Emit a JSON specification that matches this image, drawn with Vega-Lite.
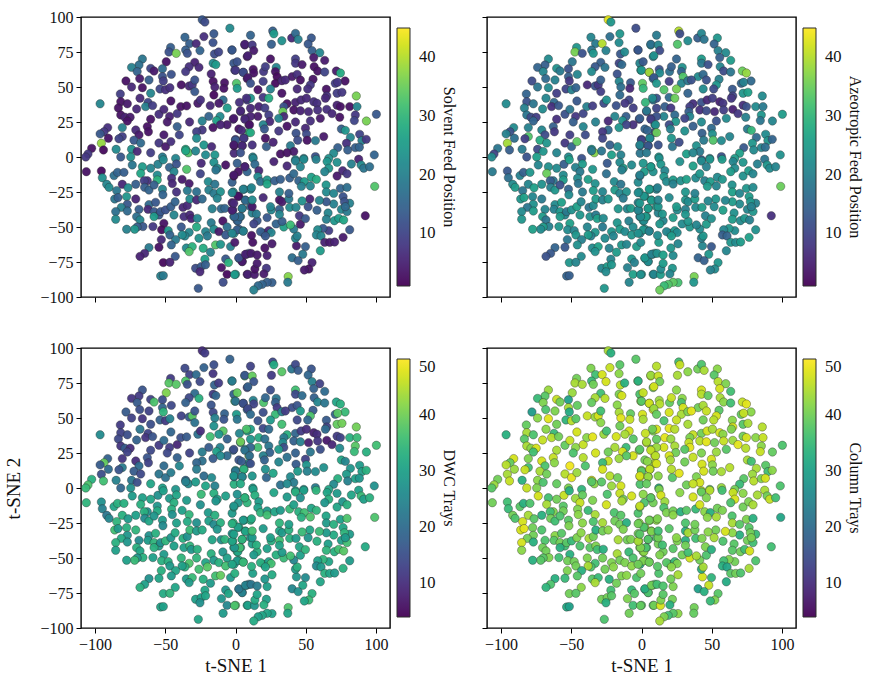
{"$schema":"https://vega.github.io/schema/vega-lite/v6.json","background":"white","padding":{"left":4,"top":8,"right":0,"bottom":0},
"config":{"font":"Liberation Serif","view":{"stroke":"black","strokeWidth":1.4},"axis":{"grid":false,"domain":false,"labelFont":"Liberation Serif","titleFont":"Liberation Serif","labelFontSize":16,"titleFontSize":19,"titleFontWeight":"normal","labelColor":"#111","titleColor":"#111","tickColor":"black","tickSize":5,"tickWidth":1,"labelPadding":3},"legend":{"labelFont":"Liberation Serif","titleFont":"Liberation Serif","labelFontSize":16.5,"titleFontSize":16,"titleFontWeight":"normal","labelColor":"#111","titleColor":"#111"}},
"datasets":{"pts":[
{"x":-23.7,"y":98,"s":13,"a":43,"d":10,"c":44},{"x":-21.8,"y":96.4,"s":11,"a":24,"d":12,"c":33},{"x":-4,"y":92,"s":22,"a":11,"d":18,"c":38},{"x":-36,"y":85.5,"s":15,"a":21,"d":14,"c":41},{"x":-22.5,"y":86,"s":7,"a":17,"d":18,"c":46},{"x":-15.4,"y":88,"s":13,"a":24,"d":15,"c":38},{"x":-16,"y":81.7,"s":12,"a":22,"d":11,"c":42},{"x":-32.7,"y":81,"s":14,"a":19,"d":13,"c":36},{"x":-28,"y":81,"s":6,"a":40,"d":20,"c":47},{"x":-46.2,"y":78.3,"s":14,"a":24,"d":12,"c":40},{"x":-47.4,"y":75,"s":12,"a":36,"d":38,"c":44},{"x":-42.2,"y":74,"s":36,"a":12,"d":38,"c":44},{"x":-35.5,"y":76.4,"s":14,"a":18,"d":37,"c":35},{"x":-34.3,"y":74,"s":12,"a":24,"d":15,"c":40},{"x":-25.3,"y":76,"s":15,"a":20,"d":14,"c":47},{"x":-15,"y":73.6,"s":11,"a":13,"d":18,"c":45},{"x":-12,"y":75,"s":10,"a":22,"d":12,"c":33},{"x":-2.6,"y":76.4,"s":12,"a":11,"d":28,"c":42},{"x":6.6,"y":80,"s":5,"a":25,"d":36,"c":46},{"x":8.3,"y":71.7,"s":3,"a":20,"d":13,"c":39},
{"x":-66.3,"y":70,"s":18,"a":22,"d":16,"c":43},{"x":-68.7,"y":65.7,"s":17,"a":14,"d":12,"c":38},{"x":-74,"y":64,"s":20,"a":15,"d":11,"c":35},{"x":-70,"y":61,"s":15,"a":21,"d":17,"c":41},{"x":-49.3,"y":68,"s":3,"a":18,"d":41,"c":43},{"x":-52,"y":63,"s":16,"a":12,"d":15,"c":30},{"x":-60.4,"y":63.3,"s":10,"a":23,"d":13,"c":46},{"x":-58,"y":61.4,"s":4,"a":19,"d":37,"c":40},{"x":-29,"y":67.6,"s":5,"a":14,"d":20,"c":36},{"x":-33,"y":64.5,"s":7,"a":13,"d":14,"c":44},{"x":-35.5,"y":61,"s":8,"a":22,"d":18,"c":39},{"x":-26,"y":64,"s":6,"a":18,"d":33,"c":45},{"x":-15.9,"y":67,"s":22,"a":10,"d":12,"c":41},{"x":-14,"y":66,"s":25,"a":16,"d":19,"c":47},{"x":-1.2,"y":67,"s":13,"a":21,"d":18,"c":37},{"x":1.2,"y":68,"s":12,"a":13,"d":39,"c":46},{"x":-0.5,"y":62,"s":9,"a":25,"d":36,"c":43},{"x":5.5,"y":60.5,"s":10,"a":9,"d":21,"c":35},{"x":8.3,"y":56,"s":3,"a":17,"d":18,"c":48},{"x":-17.3,"y":59.3,"s":5,"a":12,"d":16,"c":42},
{"x":-45.7,"y":59,"s":12,"a":21,"d":14,"c":39},{"x":-52,"y":57.4,"s":12,"a":14,"d":19,"c":44},{"x":-51.4,"y":54.3,"s":9,"a":8,"d":34,"c":32},{"x":-61.6,"y":55,"s":14,"a":20,"d":13,"c":41},{"x":-68.2,"y":56,"s":4,"a":16,"d":15,"c":37},{"x":-78,"y":54.3,"s":3,"a":11,"d":17,"c":29},{"x":-74,"y":50,"s":6,"a":18,"d":13,"c":42},{"x":-66.3,"y":49.5,"s":3,"a":22,"d":11,"c":48},{"x":-60.4,"y":45.5,"s":21,"a":9,"d":15,"c":40},{"x":-53.8,"y":48.6,"s":10,"a":10,"d":18,"c":34},{"x":-49.8,"y":48,"s":7,"a":20,"d":12,"c":45},{"x":-46.7,"y":49.5,"s":7,"a":15,"d":24,"c":38},{"x":-38.6,"y":51.5,"s":3,"a":6,"d":13,"c":46},{"x":-33,"y":50.7,"s":6,"a":12,"d":17,"c":43},{"x":-30.8,"y":51.5,"s":8,"a":8,"d":38,"c":47},{"x":-29,"y":55,"s":12,"a":14,"d":16,"c":36},{"x":-29,"y":46.7,"s":13,"a":9,"d":21,"c":42},{"x":-15.9,"y":54,"s":3,"a":21,"d":14,"c":44},{"x":-14.7,"y":50,"s":5,"a":17,"d":24,"c":48},{"x":-7.8,"y":53,"s":3,"a":13,"d":18,"c":39},
{"x":-8.3,"y":49,"s":3,"a":6,"d":16,"c":46},{"x":-15.4,"y":44.3,"s":2,"a":16,"d":27,"c":40},{"x":-8.8,"y":40.7,"s":17,"a":10,"d":38,"c":47},{"x":0.7,"y":52.6,"s":33,"a":34,"d":29,"c":47},{"x":1.2,"y":49,"s":25,"a":30,"d":22,"c":44},{"x":-82,"y":45,"s":9,"a":15,"d":12,"c":39},{"x":-81.7,"y":39.5,"s":3,"a":12,"d":13,"c":44},{"x":-77,"y":38,"s":4,"a":18,"d":15,"c":37},{"x":-68,"y":42,"s":6,"a":21,"d":22,"c":42},{"x":-62.3,"y":39,"s":10,"a":16,"d":13,"c":35},{"x":-64,"y":36,"s":20,"a":7,"d":11,"c":45},{"x":-59,"y":36.7,"s":9,"a":13,"d":16,"c":40},{"x":-70.4,"y":34.3,"s":6,"a":22,"d":18,"c":46},{"x":-83.4,"y":35,"s":3,"a":20,"d":14,"c":38},{"x":-81.7,"y":30,"s":3,"a":18,"d":11,"c":44},{"x":-78.7,"y":28.4,"s":5,"a":11,"d":17,"c":42},{"x":-75,"y":28.4,"s":4,"a":9,"d":10,"c":47},{"x":-77,"y":25.7,"s":3,"a":15,"d":13,"c":36},{"x":-96.4,"y":38,"s":21,"a":22,"d":26,"c":33},{"x":-46,"y":40,"s":3,"a":13,"d":19,"c":47},
{"x":-60.4,"y":27,"s":3,"a":7,"d":14,"c":44},{"x":-54.5,"y":30.5,"s":7,"a":12,"d":12,"c":39},{"x":-51,"y":34,"s":6,"a":18,"d":20,"c":46},{"x":-46.9,"y":29,"s":5,"a":8,"d":12,"c":42},{"x":-48.6,"y":25,"s":4,"a":14,"d":14,"c":37},{"x":-41.5,"y":31,"s":8,"a":10,"d":9,"c":46},{"x":-39,"y":36,"s":3,"a":20,"d":15,"c":42},{"x":-34.8,"y":36.5,"s":3,"a":9,"d":17,"c":48},{"x":-26.8,"y":38.4,"s":4,"a":11,"d":21,"c":43},{"x":-24.9,"y":40.7,"s":7,"a":23,"d":10,"c":36},{"x":-18,"y":36.7,"s":6,"a":12,"d":36,"c":47},{"x":-11.8,"y":38.4,"s":4,"a":8,"d":28,"c":44},{"x":-5.9,"y":35,"s":25,"a":9,"d":18,"c":38},{"x":3.6,"y":32.4,"s":5,"a":8,"d":22,"c":46},{"x":8.3,"y":40.7,"s":9,"a":17,"d":29,"c":41},{"x":-11,"y":29,"s":22,"a":14,"d":24,"c":35},{"x":-13.5,"y":26,"s":26,"a":23,"d":30,"c":47},{"x":-19,"y":29,"s":15,"a":21,"d":17,"c":44},{"x":-23.7,"y":25.7,"s":20,"a":6,"d":23,"c":40},{"x":-32.7,"y":25,"s":6,"a":20,"d":13,"c":47},
{"x":-1.6,"y":27,"s":5,"a":7,"d":19,"c":42},{"x":7,"y":27.6,"s":7,"a":11,"d":32,"c":36},{"x":9.5,"y":23,"s":4,"a":19,"d":40,"c":48},{"x":9.5,"y":17.7,"s":31,"a":11,"d":25,"c":44},{"x":2.4,"y":20,"s":3,"a":15,"d":16,"c":40},{"x":-6,"y":23,"s":4,"a":7,"d":20,"c":47},{"x":-10.7,"y":23,"s":5,"a":10,"d":26,"c":38},{"x":-16,"y":21,"s":3,"a":24,"d":17,"c":43},{"x":-23.7,"y":19.3,"s":8,"a":16,"d":21,"c":46},{"x":-27.7,"y":18,"s":9,"a":8,"d":19,"c":35},{"x":-80.6,"y":21,"s":20,"a":20,"d":11,"c":41},{"x":-91,"y":21,"s":7,"a":22,"d":18,"c":47},{"x":-93.6,"y":18,"s":8,"a":12,"d":39,"c":39},{"x":-96.4,"y":16.5,"s":13,"a":20,"d":17,"c":45},{"x":-90.5,"y":13.4,"s":3,"a":17,"d":20,"c":43},{"x":-95.5,"y":9.8,"s":38,"a":39,"d":15,"c":44},{"x":-102.4,"y":6.2,"s":3,"a":18,"d":33,"c":40},{"x":-94,"y":5,"s":2,"a":14,"d":36,"c":46},{"x":-105,"y":2.2,"s":8,"a":10,"d":37,"c":43},{"x":-106.6,"y":0,"s":8,"a":22,"d":35,"c":38},
{"x":-62.8,"y":21.7,"s":3,"a":14,"d":16,"c":46},{"x":-62,"y":18,"s":3,"a":8,"d":13,"c":42},{"x":-71,"y":19.3,"s":6,"a":21,"d":10,"c":47},{"x":-68.7,"y":15.8,"s":4,"a":11,"d":20,"c":37},{"x":-72.3,"y":12,"s":13,"a":28,"d":17,"c":44},{"x":-67.5,"y":10,"s":16,"a":24,"d":14,"c":40},{"x":-80.6,"y":14.6,"s":9,"a":33,"d":23,"c":36},{"x":-83,"y":13,"s":10,"a":9,"d":16,"c":46},{"x":-85,"y":5.5,"s":22,"a":19,"d":24,"c":33},{"x":-74,"y":5.5,"s":23,"a":11,"d":22,"c":42},{"x":-70,"y":4,"s":6,"a":24,"d":15,"c":37},{"x":-74.6,"y":0,"s":23,"a":26,"d":27,"c":41},{"x":-81.7,"y":0,"s":13,"a":12,"d":19,"c":46},{"x":-60.4,"y":3,"s":9,"a":21,"d":31,"c":39},{"x":-54.5,"y":10,"s":8,"a":8,"d":22,"c":45},{"x":-49.8,"y":7.4,"s":4,"a":15,"d":21,"c":48},{"x":-46,"y":11,"s":7,"a":34,"d":23,"c":43},{"x":-40,"y":15.8,"s":10,"a":11,"d":25,"c":37},{"x":-41.5,"y":21.7,"s":14,"a":21,"d":18,"c":45},{"x":-51,"y":15.8,"s":4,"a":9,"d":20,"c":49},
{"x":-52,"y":0,"s":19,"a":22,"d":30,"c":41},{"x":-42.6,"y":-1,"s":21,"a":12,"d":28,"c":34},{"x":-35.5,"y":5.5,"s":28,"a":24,"d":19,"c":47},{"x":-33.6,"y":3,"s":33,"a":37,"d":26,"c":42},{"x":-28.4,"y":4.3,"s":21,"a":18,"d":29,"c":38},{"x":-27.7,"y":13.4,"s":22,"a":10,"d":23,"c":47},{"x":-22.5,"y":8.6,"s":24,"a":14,"d":20,"c":45},{"x":-17,"y":7.4,"s":6,"a":22,"d":26,"c":40},{"x":-21.3,"y":1.5,"s":22,"a":26,"d":31,"c":43},{"x":-14.7,"y":1.5,"s":24,"a":20,"d":24,"c":47},{"x":-1,"y":2.7,"s":6,"a":18,"d":33,"c":37},{"x":0,"y":12.6,"s":7,"a":9,"d":30,"c":44},{"x":-1,"y":8,"s":2,"a":12,"d":21,"c":47},{"x":4.8,"y":8,"s":3,"a":8,"d":25,"c":41},{"x":6,"y":13.4,"s":9,"a":17,"d":28,"c":35},
{"x":10.7,"y":87,"s":15,"a":19,"d":13,"c":45},{"x":26.5,"y":90,"s":14,"a":40,"d":14,"c":36},{"x":27.3,"y":88,"s":25,"a":11,"d":32,"c":46},{"x":33,"y":83,"s":23,"a":22,"d":38,"c":42},{"x":40,"y":85,"s":6,"a":14,"d":22,"c":40},{"x":42.7,"y":88.3,"s":16,"a":21,"d":14,"c":37},{"x":44.6,"y":84,"s":20,"a":18,"d":17,"c":44},{"x":54,"y":85,"s":13,"a":24,"d":16,"c":42},{"x":51.7,"y":80.7,"s":13,"a":15,"d":19,"c":38},{"x":54.5,"y":76,"s":14,"a":20,"d":24,"c":45},{"x":60,"y":74.5,"s":21,"a":22,"d":13,"c":41},{"x":55.7,"y":71,"s":4,"a":14,"d":18,"c":47},{"x":63.5,"y":69,"s":4,"a":25,"d":20,"c":36},{"x":6.6,"y":80.5,"s":5,"a":17,"d":16,"c":43},{"x":11.9,"y":80,"s":8,"a":21,"d":39,"c":46},{"x":13,"y":76,"s":4,"a":11,"d":16,"c":40},{"x":25.6,"y":80.5,"s":14,"a":33,"d":12,"c":44},{"x":-2.4,"y":76.4,"s":13,"a":13,"d":23,"c":33},{"x":8.8,"y":72.4,"s":5,"a":23,"d":18,"c":47},{"x":24.9,"y":70,"s":3,"a":15,"d":15,"c":42},
{"x":42.7,"y":70,"s":9,"a":25,"d":36,"c":47},{"x":42.7,"y":67,"s":8,"a":19,"d":14,"c":45},{"x":47.4,"y":66,"s":4,"a":12,"d":20,"c":39},{"x":56,"y":64.5,"s":3,"a":21,"d":18,"c":44},{"x":58.5,"y":61.4,"s":3,"a":11,"d":25,"c":42},{"x":63.5,"y":60.7,"s":10,"a":18,"d":22,"c":36},{"x":71.8,"y":61.4,"s":4,"a":35,"d":31,"c":46},{"x":74.7,"y":60,"s":28,"a":38,"d":33,"c":48},{"x":78,"y":54.3,"s":3,"a":16,"d":35,"c":42},{"x":0,"y":62,"s":8,"a":24,"d":21,"c":38},{"x":5.5,"y":60.5,"s":11,"a":39,"d":15,"c":47},{"x":12.6,"y":62.6,"s":3,"a":12,"d":24,"c":43},{"x":13,"y":60,"s":3,"a":22,"d":13,"c":45},{"x":20,"y":61,"s":8,"a":17,"d":37,"c":39},{"x":21.3,"y":64.5,"s":9,"a":14,"d":19,"c":46},{"x":29,"y":64,"s":21,"a":23,"d":22,"c":42},{"x":28.4,"y":61,"s":3,"a":15,"d":18,"c":37},{"x":29.6,"y":57.4,"s":2,"a":33,"d":12,"c":47},{"x":40.3,"y":57.4,"s":4,"a":22,"d":15,"c":40},{"x":43.9,"y":59,"s":7,"a":16,"d":16,"c":44},
{"x":46.2,"y":55,"s":3,"a":12,"d":29,"c":46},{"x":55.2,"y":55.5,"s":3,"a":20,"d":17,"c":38},{"x":8.8,"y":56.7,"s":4,"a":13,"d":14,"c":43},{"x":10.7,"y":52.6,"s":12,"a":24,"d":20,"c":39},{"x":19.7,"y":54,"s":9,"a":9,"d":15,"c":47},{"x":28.4,"y":52.6,"s":2,"a":21,"d":35,"c":44},{"x":33,"y":54.5,"s":5,"a":18,"d":24,"c":41},{"x":35.5,"y":55,"s":6,"a":12,"d":12,"c":48},{"x":16,"y":48,"s":3,"a":33,"d":16,"c":37},{"x":24.9,"y":48.6,"s":20,"a":36,"d":29,"c":46},{"x":33,"y":45.5,"s":3,"a":15,"d":36,"c":44},{"x":43.9,"y":48.6,"s":6,"a":22,"d":14,"c":40},{"x":53.3,"y":51.5,"s":8,"a":24,"d":37,"c":47},{"x":51.4,"y":48.6,"s":7,"a":11,"d":19,"c":45},{"x":71,"y":52.6,"s":9,"a":15,"d":18,"c":39},{"x":72.7,"y":53.4,"s":8,"a":20,"d":38,"c":46},{"x":64.7,"y":48.4,"s":3,"a":13,"d":17,"c":42},{"x":72.3,"y":45.5,"s":9,"a":24,"d":39,"c":38},{"x":75.8,"y":46.2,"s":8,"a":26,"d":40,"c":44},{"x":65,"y":43.6,"s":7,"a":10,"d":13,"c":47},
{"x":64,"y":42,"s":6,"a":8,"d":20,"c":41},{"x":86,"y":43.6,"s":36,"a":22,"d":40,"c":45},{"x":19.7,"y":42.6,"s":8,"a":16,"d":14,"c":48},{"x":23.7,"y":42,"s":28,"a":35,"d":20,"c":45},{"x":10.7,"y":42,"s":24,"a":12,"d":30,"c":47},{"x":7.8,"y":42,"s":7,"a":22,"d":37,"c":40},{"x":2.8,"y":39,"s":7,"a":30,"d":25,"c":46},{"x":3.6,"y":33,"s":6,"a":19,"d":40,"c":44},{"x":10.7,"y":34.8,"s":6,"a":10,"d":28,"c":39},{"x":16.6,"y":36,"s":5,"a":14,"d":32,"c":48},{"x":20.9,"y":35,"s":9,"a":8,"d":21,"c":43},{"x":36.7,"y":38,"s":3,"a":7,"d":33,"c":46},{"x":42.7,"y":39,"s":5,"a":12,"d":19,"c":40},{"x":46.7,"y":40.7,"s":6,"a":6,"d":12,"c":47},{"x":50.5,"y":42,"s":6,"a":9,"d":10,"c":44},{"x":55.7,"y":39.5,"s":7,"a":5,"d":8,"c":47},{"x":58,"y":38.4,"s":7,"a":8,"d":10,"c":42},{"x":41.5,"y":33.6,"s":3,"a":7,"d":18,"c":45},{"x":46.2,"y":33,"s":5,"a":11,"d":24,"c":48},{"x":52,"y":32.4,"s":6,"a":6,"d":8,"c":40},
{"x":58.5,"y":33.6,"s":7,"a":9,"d":11,"c":46},{"x":65,"y":34,"s":7,"a":5,"d":7,"c":43},{"x":68.7,"y":31,"s":6,"a":8,"d":9,"c":48},{"x":72.3,"y":37,"s":5,"a":7,"d":12,"c":40},{"x":74.7,"y":36,"s":3,"a":12,"d":13,"c":47},{"x":81.3,"y":36,"s":3,"a":22,"d":33,"c":42},{"x":86.5,"y":36,"s":21,"a":19,"d":35,"c":46},{"x":34.4,"y":36,"s":12,"a":9,"d":23,"c":41},{"x":33.7,"y":32.4,"s":35,"a":14,"d":26,"c":46},{"x":34.4,"y":29,"s":6,"a":21,"d":15,"c":48},{"x":30.8,"y":27.6,"s":21,"a":10,"d":29,"c":38},{"x":23.7,"y":30,"s":9,"a":16,"d":22,"c":44},{"x":24.4,"y":25.3,"s":6,"a":24,"d":18,"c":40},{"x":15.9,"y":29,"s":4,"a":21,"d":36,"c":47},{"x":10.7,"y":29,"s":5,"a":12,"d":19,"c":43},{"x":6.6,"y":27,"s":6,"a":9,"d":21,"c":46},{"x":-1.2,"y":27.6,"s":4,"a":14,"d":15,"c":38},{"x":10,"y":23,"s":3,"a":23,"d":20,"c":45},{"x":4.3,"y":19,"s":6,"a":15,"d":17,"c":42},{"x":19.7,"y":23,"s":21,"a":11,"d":24,"c":47},
{"x":20.6,"y":20,"s":13,"a":20,"d":18,"c":44},{"x":30.8,"y":18.6,"s":8,"a":23,"d":25,"c":40},{"x":36.7,"y":22,"s":3,"a":14,"d":21,"c":46},{"x":42.7,"y":25,"s":6,"a":22,"d":18,"c":41},{"x":49.8,"y":20.5,"s":6,"a":16,"d":13,"c":47},{"x":53.3,"y":25.7,"s":7,"a":12,"d":22,"c":43},{"x":60.4,"y":27.6,"s":4,"a":22,"d":15,"c":38},{"x":74.2,"y":28.4,"s":3,"a":20,"d":26,"c":45},{"x":85.3,"y":30,"s":8,"a":24,"d":38,"c":42},{"x":84.6,"y":26,"s":10,"a":18,"d":35,"c":46},{"x":93.2,"y":25.7,"s":36,"a":21,"d":33,"c":39},{"x":100.3,"y":30.5,"s":13,"a":25,"d":36,"c":37},{"x":75.4,"y":20,"s":14,"a":19,"d":31,"c":44},{"x":78.2,"y":19,"s":24,"a":30,"d":25,"c":36},{"x":43.1,"y":17,"s":12,"a":14,"d":17,"c":47},{"x":50.5,"y":16.5,"s":11,"a":23,"d":28,"c":42},{"x":62.8,"y":14.6,"s":4,"a":21,"d":27,"c":45},{"x":88.4,"y":16.2,"s":10,"a":22,"d":29,"c":38},{"x":81.8,"y":14,"s":21,"a":16,"d":28,"c":44},{"x":90,"y":11.7,"s":20,"a":24,"d":30,"c":36},
{"x":93.1,"y":12.6,"s":8,"a":15,"d":33,"c":42},{"x":44.3,"y":12,"s":11,"a":19,"d":29,"c":47},{"x":51,"y":12,"s":3,"a":33,"d":24,"c":40},{"x":56.9,"y":11.7,"s":19,"a":22,"d":26,"c":44},{"x":10.7,"y":17.4,"s":28,"a":35,"d":15,"c":47},{"x":0,"y":12,"s":13,"a":10,"d":22,"c":38},{"x":5.9,"y":13.4,"s":8,"a":22,"d":34,"c":46},{"x":11.9,"y":8.6,"s":7,"a":12,"d":28,"c":42},{"x":21.3,"y":13.4,"s":3,"a":24,"d":27,"c":45},{"x":22,"y":7.4,"s":14,"a":18,"d":19,"c":38},{"x":26.8,"y":10.5,"s":5,"a":11,"d":31,"c":48},{"x":39.1,"y":8,"s":19,"a":23,"d":26,"c":41},{"x":41.5,"y":3.9,"s":4,"a":19,"d":23,"c":47},{"x":79,"y":9.8,"s":7,"a":24,"d":29,"c":43},{"x":72.8,"y":6.7,"s":14,"a":13,"d":33,"c":38},{"x":79.9,"y":5,"s":14,"a":22,"d":24,"c":45},{"x":85.3,"y":6.7,"s":14,"a":21,"d":30,"c":41},{"x":88.2,"y":7,"s":15,"a":17,"d":28,"c":47},{"x":98.8,"y":1.5,"s":15,"a":23,"d":27,"c":37},{"x":87.7,"y":-1.6,"s":5,"a":18,"d":30,"c":44},
{"x":32,"y":2.2,"s":3,"a":26,"d":21,"c":40},{"x":36.7,"y":3,"s":3,"a":21,"d":26,"c":46},{"x":56.9,"y":0.3,"s":12,"a":12,"d":23,"c":43},{"x":48.6,"y":-1,"s":20,"a":20,"d":27,"c":38},{"x":42.7,"y":-2,"s":21,"a":14,"d":28,"c":45},{"x":69.9,"y":2.7,"s":22,"a":26,"d":26,"c":35},{"x":66.4,"y":-1,"s":23,"a":25,"d":31,"c":40},{"x":-1.2,"y":8.6,"s":4,"a":21,"d":28,"c":47},{"x":4.7,"y":8,"s":6,"a":13,"d":25,"c":43},{"x":12.3,"y":0,"s":21,"a":24,"d":29,"c":33},{"x":3.6,"y":3,"s":12,"a":19,"d":32,"c":39},
{"x":-106.2,"y":-10.5,"s":3,"a":19,"d":34,"c":40},{"x":-95.5,"y":-10,"s":2,"a":13,"d":27,"c":36},{"x":-94.8,"y":-14.8,"s":23,"a":17,"d":24,"c":35},{"x":-91.7,"y":-19.5,"s":21,"a":22,"d":22,"c":40},{"x":-90,"y":-21.7,"s":22,"a":25,"d":25,"c":37},{"x":-86.5,"y":-13.3,"s":17,"a":20,"d":31,"c":38},{"x":-84,"y":-11,"s":15,"a":14,"d":33,"c":33},{"x":-79.4,"y":-11,"s":14,"a":24,"d":33,"c":37},{"x":-73.5,"y":-5.7,"s":18,"a":21,"d":29,"c":47},{"x":-66.3,"y":-7,"s":25,"a":23,"d":30,"c":36},{"x":-67.5,"y":-11.7,"s":27,"a":35,"d":33,"c":44},{"x":-60.4,"y":-8,"s":21,"a":22,"d":31,"c":40},{"x":-55.2,"y":-5.2,"s":20,"a":14,"d":27,"c":46},{"x":-51.4,"y":-2,"s":22,"a":26,"d":30,"c":33},{"x":-47,"y":-7.4,"s":15,"a":20,"d":29,"c":43},{"x":-42,"y":-5,"s":12,"a":25,"d":31,"c":39},{"x":-43.8,"y":-10.5,"s":21,"a":19,"d":33,"c":46},{"x":-34.8,"y":-8.8,"s":33,"a":24,"d":29,"c":41},{"x":-25,"y":-12,"s":10,"a":17,"d":27,"c":47},{"x":-24.4,"y":-4.5,"s":6,"a":13,"d":35,"c":37},
{"x":-55.7,"y":-12.9,"s":22,"a":22,"d":28,"c":38},{"x":-55.7,"y":-16.4,"s":29,"a":25,"d":32,"c":40},{"x":-62.8,"y":-17,"s":7,"a":18,"d":27,"c":41},{"x":-65,"y":-17,"s":9,"a":14,"d":33,"c":36},{"x":-71,"y":-19.5,"s":14,"a":23,"d":30,"c":33},{"x":-80.6,"y":-19.5,"s":6,"a":21,"d":33,"c":44},{"x":-76.5,"y":-22,"s":22,"a":26,"d":29,"c":38},{"x":-84.6,"y":-24,"s":18,"a":18,"d":34,"c":47},{"x":-64.7,"y":-21.7,"s":14,"a":20,"d":26,"c":40},{"x":-61.6,"y":-23.6,"s":15,"a":24,"d":31,"c":36},{"x":-58,"y":-20,"s":14,"a":12,"d":28,"c":37},{"x":-45.5,"y":-15.2,"s":7,"a":22,"d":33,"c":41},{"x":-45,"y":-19,"s":6,"a":18,"d":27,"c":42},{"x":-38,"y":-16,"s":4,"a":26,"d":30,"c":35},{"x":-33,"y":-19,"s":4,"a":23,"d":34,"c":44},{"x":-52,"y":-23,"s":21,"a":15,"d":29,"c":38},{"x":-51.7,"y":-27,"s":15,"a":22,"d":26,"c":41},{"x":-42,"y":-25,"s":7,"a":19,"d":30,"c":42},{"x":-34.3,"y":-24,"s":19,"a":25,"d":32,"c":37},{"x":-27.7,"y":-24.8,"s":17,"a":21,"d":27,"c":44},
{"x":-77.5,"y":-28.3,"s":24,"a":21,"d":33,"c":40},{"x":-86,"y":-30,"s":18,"a":24,"d":36,"c":47},{"x":-83.6,"y":-29,"s":14,"a":26,"d":29,"c":48},{"x":-71,"y":-30,"s":5,"a":19,"d":34,"c":37},{"x":-77,"y":-33.8,"s":13,"a":23,"d":28,"c":40},{"x":-81.3,"y":-36,"s":20,"a":18,"d":32,"c":40},{"x":-77,"y":-38.6,"s":16,"a":25,"d":28,"c":33},{"x":-85.3,"y":-39,"s":17,"a":22,"d":33,"c":47},{"x":-85.3,"y":-44.5,"s":22,"a":24,"d":30,"c":42},{"x":-68.7,"y":-37.4,"s":14,"a":21,"d":26,"c":37},{"x":-70.4,"y":-42.6,"s":17,"a":25,"d":33,"c":40},{"x":-68,"y":-45,"s":21,"a":18,"d":31,"c":40},{"x":-61.6,"y":-34,"s":16,"a":22,"d":27,"c":42},{"x":-56.9,"y":-32.4,"s":13,"a":26,"d":33,"c":38},{"x":-62.3,"y":-37.4,"s":6,"a":20,"d":29,"c":38},{"x":-58,"y":-39,"s":13,"a":24,"d":34,"c":40},{"x":-54.5,"y":-41.4,"s":13,"a":21,"d":30,"c":36},{"x":-58,"y":-42.6,"s":25,"a":25,"d":33,"c":33},{"x":-53.3,"y":-39,"s":13,"a":19,"d":27,"c":38},{"x":-49.8,"y":-37.8,"s":12,"a":23,"d":34,"c":35},
{"x":-46,"y":-35.5,"s":14,"a":26,"d":28,"c":41},{"x":-43,"y":-32,"s":15,"a":21,"d":32,"c":42},{"x":-43.8,"y":-41.4,"s":21,"a":24,"d":30,"c":37},{"x":-37.4,"y":-36,"s":6,"a":18,"d":33,"c":44},{"x":-34.3,"y":-34.7,"s":6,"a":22,"d":27,"c":40},{"x":-32.5,"y":-30,"s":22,"a":25,"d":35,"c":33},{"x":-27.7,"y":-30.7,"s":6,"a":20,"d":29,"c":40},{"x":-23.7,"y":-30,"s":16,"a":24,"d":32,"c":42},{"x":-36.7,"y":-42.6,"s":7,"a":23,"d":30,"c":38},{"x":-32.5,"y":-41.4,"s":6,"a":19,"d":34,"c":41},{"x":-31.5,"y":-44,"s":5,"a":26,"d":28,"c":36},{"x":-27.2,"y":-43.8,"s":21,"a":22,"d":33,"c":33},{"x":-16.6,"y":-37,"s":20,"a":24,"d":31,"c":44},{"x":-10.2,"y":-37,"s":16,"a":21,"d":27,"c":40},{"x":-7.6,"y":-36.7,"s":15,"a":25,"d":34,"c":41},{"x":-19.4,"y":-17.6,"s":22,"a":22,"d":29,"c":37},{"x":-14.7,"y":-19.5,"s":18,"a":18,"d":33,"c":38},{"x":-19,"y":-23.6,"s":20,"a":25,"d":30,"c":40},{"x":-15.4,"y":-26,"s":19,"a":21,"d":26,"c":40},{"x":-10.7,"y":-24.8,"s":23,"a":23,"d":33,"c":33},
{"x":-13,"y":-29.5,"s":21,"a":19,"d":28,"c":41},{"x":-1.6,"y":-25,"s":22,"a":26,"d":34,"c":42},{"x":-2.4,"y":-18,"s":14,"a":22,"d":29,"c":37},{"x":2.4,"y":-28,"s":3,"a":24,"d":33,"c":44},{"x":-2.4,"y":-32.6,"s":4,"a":20,"d":27,"c":40},{"x":7,"y":-30.7,"s":18,"a":25,"d":31,"c":41},{"x":-1.9,"y":-38,"s":6,"a":21,"d":34,"c":42},{"x":4.8,"y":-36.7,"s":18,"a":24,"d":29,"c":33},{"x":-1.2,"y":-42.6,"s":20,"a":18,"d":33,"c":40},{"x":3.6,"y":-42.6,"s":21,"a":23,"d":30,"c":36},{"x":1.2,"y":-45.5,"s":13,"a":26,"d":35,"c":41},{"x":-9,"y":-45.7,"s":3,"a":20,"d":28,"c":35},{"x":-17.3,"y":-47,"s":19,"a":24,"d":33,"c":44},{"x":-6,"y":-50,"s":17,"a":22,"d":30,"c":37},{"x":-27.7,"y":-50,"s":28,"a":19,"d":34,"c":40},{"x":-15.4,"y":-51.6,"s":22,"a":25,"d":29,"c":40},{"x":-11.8,"y":-53.3,"s":4,"a":22,"d":33,"c":41},{"x":-7,"y":-55.7,"s":13,"a":24,"d":36,"c":42},{"x":-1,"y":-54.5,"s":22,"a":20,"d":30,"c":33},{"x":2.4,"y":-51.6,"s":14,"a":23,"d":33,"c":38},
{"x":5.5,"y":-52.8,"s":22,"a":26,"d":28,"c":35},{"x":-38.6,"y":-50,"s":13,"a":21,"d":34,"c":41},{"x":-33,"y":-53.8,"s":21,"a":24,"d":37,"c":36},{"x":-36,"y":-56.4,"s":21,"a":20,"d":33,"c":37},{"x":-38,"y":-55.7,"s":22,"a":25,"d":30,"c":44},{"x":-26,"y":-58,"s":23,"a":22,"d":36,"c":40},{"x":-21.3,"y":-53.3,"s":21,"a":24,"d":31,"c":41},{"x":-20,"y":-56.4,"s":19,"a":21,"d":38,"c":42},{"x":-51,"y":-47.4,"s":3,"a":26,"d":29,"c":33},{"x":-52.6,"y":-52,"s":2,"a":22,"d":33,"c":40},{"x":-58.8,"y":-49.7,"s":8,"a":24,"d":30,"c":36},{"x":-65.9,"y":-49.7,"s":13,"a":20,"d":33,"c":41},{"x":-70,"y":-50,"s":14,"a":25,"d":28,"c":38},{"x":-71.8,"y":-51.6,"s":24,"a":22,"d":35,"c":38},{"x":-77.5,"y":-51.6,"s":20,"a":26,"d":30,"c":33},{"x":-47.9,"y":-52.6,"s":24,"a":21,"d":33,"c":40},{"x":-46.7,"y":-55.7,"s":15,"a":24,"d":29,"c":40},{"x":-42.6,"y":-59,"s":19,"a":20,"d":31,"c":33},{"x":-45.7,"y":-62.8,"s":15,"a":23,"d":29,"c":38},{"x":-52.8,"y":-59,"s":6,"a":18,"d":33,"c":41},
{"x":-54.5,"y":-64.5,"s":3,"a":13,"d":31,"c":35},{"x":-61.6,"y":-64.7,"s":19,"a":15,"d":27,"c":33},{"x":-64.7,"y":-68.8,"s":6,"a":13,"d":30,"c":37},{"x":-68,"y":-71,"s":5,"a":12,"d":33,"c":34},{"x":-42.9,"y":-71,"s":13,"a":22,"d":31,"c":42},{"x":-51.4,"y":-75.4,"s":2,"a":24,"d":32,"c":40},{"x":-46.7,"y":-75.2,"s":5,"a":21,"d":34,"c":38},{"x":-53.3,"y":-85,"s":20,"a":15,"d":31,"c":32},{"x":-51.4,"y":-84.7,"s":19,"a":14,"d":30,"c":30},{"x":-26.5,"y":-93.8,"s":13,"a":24,"d":31,"c":37},{"x":-35,"y":-65,"s":22,"a":22,"d":29,"c":38},{"x":-30.8,"y":-64,"s":29,"a":26,"d":35,"c":35},{"x":-33,"y":-67.6,"s":33,"a":23,"d":29,"c":44},{"x":-23,"y":-65.2,"s":28,"a":20,"d":33,"c":33},{"x":-17.8,"y":-68,"s":20,"a":25,"d":29,"c":40},{"x":-21.8,"y":-73,"s":26,"a":21,"d":31,"c":36},{"x":-14.2,"y":-62.8,"s":33,"a":24,"d":36,"c":41},{"x":-10.6,"y":-62.4,"s":24,"a":21,"d":39,"c":42},{"x":-3.5,"y":-64,"s":20,"a":25,"d":29,"c":37},{"x":-0.5,"y":-61,"s":4,"a":22,"d":33,"c":40},
{"x":-7,"y":-72.8,"s":13,"a":24,"d":28,"c":35},{"x":-5,"y":-75.4,"s":29,"a":20,"d":31,"c":38},{"x":2.4,"y":-72.4,"s":14,"a":23,"d":23,"c":33},{"x":7.8,"y":-69.5,"s":3,"a":26,"d":31,"c":41},{"x":4.8,"y":-74.7,"s":5,"a":22,"d":24,"c":36},{"x":9.5,"y":-68.8,"s":13,"a":24,"d":22,"c":37},{"x":-28.4,"y":-79.5,"s":11,"a":21,"d":30,"c":40},{"x":-24.4,"y":-78.3,"s":13,"a":25,"d":30,"c":40},{"x":-25.3,"y":-82,"s":6,"a":22,"d":27,"c":33},{"x":-21.3,"y":-77,"s":14,"a":24,"d":31,"c":38},{"x":-10,"y":-79,"s":3,"a":20,"d":28,"c":41},{"x":-6,"y":-83.8,"s":2,"a":26,"d":25,"c":36},{"x":0,"y":-83.8,"s":25,"a":23,"d":37,"c":38},{"x":-8.8,"y":-89.5,"s":11,"a":21,"d":29,"c":40},{"x":8.3,"y":-83.8,"s":3,"a":24,"d":31,"c":36},{"x":-35.5,"y":4.5,"s":27,"a":19,"d":24,"c":38},{"x":-7,"y":-5.7,"s":3,"a":22,"d":30,"c":47},{"x":1.2,"y":-4.5,"s":14,"a":24,"d":27,"c":42},{"x":6.7,"y":-7,"s":4,"a":21,"d":32,"c":46},{"x":2,"y":-10.5,"s":3,"a":25,"d":28,"c":37},
{"x":-1.2,"y":-13.6,"s":2,"a":18,"d":31,"c":38},{"x":8.3,"y":-10.5,"s":15,"a":23,"d":34,"c":40},{"x":6,"y":-23,"s":21,"a":26,"d":30,"c":41},{"x":10.7,"y":-23,"s":22,"a":21,"d":33,"c":42},{"x":10.7,"y":-35.5,"s":15,"a":24,"d":29,"c":37},{"x":-15.4,"y":-3.8,"s":23,"a":22,"d":33,"c":46},{"x":-13,"y":-8,"s":22,"a":25,"d":30,"c":40},{"x":-14,"y":-9.3,"s":18,"a":20,"d":28,"c":44},
{"x":12.6,"y":-1,"s":21,"a":23,"d":30,"c":41},{"x":13.8,"y":-5.2,"s":16,"a":24,"d":33,"c":47},{"x":16.6,"y":-9.8,"s":6,"a":21,"d":29,"c":43},{"x":6.6,"y":-7,"s":5,"a":25,"d":34,"c":38},{"x":-1.2,"y":-12.9,"s":4,"a":20,"d":28,"c":46},{"x":27.3,"y":-3.3,"s":5,"a":23,"d":31,"c":42},{"x":36.7,"y":-6.4,"s":6,"a":26,"d":29,"c":47},{"x":42.7,"y":-2.9,"s":20,"a":22,"d":33,"c":39},{"x":48.6,"y":-1.7,"s":22,"a":24,"d":30,"c":45},{"x":46.2,"y":-7,"s":21,"a":20,"d":27,"c":41},{"x":57.4,"y":-1.7,"s":20,"a":25,"d":34,"c":36},{"x":65.2,"y":-3.3,"s":24,"a":21,"d":31,"c":46},{"x":72.3,"y":-3.8,"s":23,"a":24,"d":29,"c":42},{"x":66.4,"y":-8,"s":24,"a":22,"d":33,"c":47},{"x":63.5,"y":-10.5,"s":21,"a":25,"d":28,"c":37},{"x":82.5,"y":-5,"s":20,"a":20,"d":31,"c":44},{"x":89.4,"y":-5.7,"s":22,"a":24,"d":35,"c":40},{"x":91.3,"y":-8,"s":18,"a":22,"d":30,"c":46},{"x":95.5,"y":-7,"s":17,"a":21,"d":33,"c":36},{"x":99.1,"y":-21,"s":33,"a":35,"d":37,"c":31},
{"x":72.3,"y":-13.6,"s":4,"a":23,"d":31,"c":40},{"x":76.3,"y":-9.8,"s":6,"a":25,"d":28,"c":41},{"x":79.4,"y":-12,"s":8,"a":21,"d":33,"c":44},{"x":15.9,"y":-14,"s":22,"a":24,"d":30,"c":37},{"x":17.8,"y":-17.6,"s":17,"a":22,"d":34,"c":41},{"x":22.5,"y":-16.4,"s":24,"a":25,"d":29,"c":40},{"x":22.5,"y":-19.3,"s":27,"a":20,"d":36,"c":42},{"x":27.9,"y":-17,"s":14,"a":23,"d":31,"c":33},{"x":32,"y":-16,"s":14,"a":26,"d":29,"c":38},{"x":38.6,"y":-15,"s":14,"a":22,"d":35,"c":35},{"x":41.5,"y":-12,"s":16,"a":24,"d":30,"c":47},{"x":45,"y":-17,"s":15,"a":20,"d":33,"c":42},{"x":49,"y":-17.6,"s":25,"a":25,"d":36,"c":33},{"x":54,"y":-14.5,"s":26,"a":22,"d":31,"c":40},{"x":57.6,"y":-16,"s":28,"a":24,"d":34,"c":41},{"x":53.3,"y":-20.7,"s":21,"a":21,"d":37,"c":44},{"x":46.9,"y":-21,"s":20,"a":25,"d":33,"c":42},{"x":64.5,"y":-20,"s":24,"a":23,"d":31,"c":37},{"x":64.7,"y":-25,"s":22,"a":26,"d":29,"c":44},{"x":69.9,"y":-26,"s":21,"a":21,"d":33,"c":38},
{"x":74.7,"y":-22.4,"s":15,"a":24,"d":30,"c":41},{"x":79.4,"y":-21.7,"s":17,"a":22,"d":37,"c":33},{"x":76.6,"y":-28.3,"s":12,"a":25,"d":31,"c":38},{"x":81.3,"y":-33,"s":20,"a":20,"d":29,"c":35},{"x":77.5,"y":-32,"s":12,"a":24,"d":34,"c":40},{"x":69.9,"y":-33.6,"s":20,"a":22,"d":32,"c":33},{"x":64.7,"y":-32,"s":13,"a":25,"d":29,"c":42},{"x":59.7,"y":-31,"s":21,"a":21,"d":35,"c":47},{"x":52.9,"y":-30,"s":5,"a":24,"d":31,"c":40},{"x":51.7,"y":-35.5,"s":12,"a":22,"d":28,"c":44},{"x":58,"y":-38,"s":14,"a":26,"d":33,"c":37},{"x":75.4,"y":-37.4,"s":21,"a":21,"d":30,"c":40},{"x":79.4,"y":-39,"s":19,"a":24,"d":36,"c":36},{"x":78.2,"y":-35.5,"s":16,"a":20,"d":29,"c":41},{"x":92.4,"y":-42,"s":3,"a":7,"d":32,"c":36},{"x":65.9,"y":-40,"s":21,"a":23,"d":30,"c":38},{"x":64.7,"y":-44.5,"s":20,"a":25,"d":34,"c":38},{"x":70.4,"y":-45.5,"s":24,"a":22,"d":33,"c":40},{"x":73.5,"y":-43.8,"s":25,"a":24,"d":36,"c":36},{"x":77,"y":-45,"s":27,"a":20,"d":38,"c":47},
{"x":81.3,"y":-52,"s":13,"a":23,"d":29,"c":37},{"x":76.6,"y":-57.4,"s":4,"a":26,"d":33,"c":44},{"x":66.4,"y":-52.6,"s":9,"a":22,"d":31,"c":40},{"x":62.3,"y":-51,"s":13,"a":24,"d":34,"c":41},{"x":58.5,"y":-52,"s":22,"a":21,"d":30,"c":36},{"x":57.6,"y":-55.7,"s":21,"a":14,"d":26,"c":33},{"x":60.9,"y":-56.4,"s":21,"a":15,"d":29,"c":31},{"x":63.5,"y":-61,"s":5,"a":24,"d":33,"c":38},{"x":67.1,"y":-61,"s":4,"a":22,"d":31,"c":40},{"x":70.6,"y":-60.7,"s":5,"a":25,"d":29,"c":37},{"x":60.4,"y":-67,"s":25,"a":21,"d":31,"c":32},{"x":54.5,"y":-75.4,"s":5,"a":24,"d":33,"c":38},{"x":52.2,"y":-80,"s":3,"a":22,"d":35,"c":41},{"x":49,"y":-80.7,"s":4,"a":20,"d":31,"c":35},{"x":49.8,"y":-64,"s":14,"a":13,"d":26,"c":34},{"x":43.4,"y":-63.5,"s":4,"a":21,"d":28,"c":47},{"x":47.9,"y":-69.5,"s":19,"a":24,"d":31,"c":46},{"x":40.3,"y":-72,"s":17,"a":15,"d":25,"c":30},{"x":44.6,"y":-74,"s":14,"a":14,"d":27,"c":33},{"x":37.5,"y":-85.4,"s":37,"a":36,"d":37,"c":40},
{"x":37.2,"y":-89.5,"s":19,"a":24,"d":31,"c":39},{"x":26,"y":-89.7,"s":14,"a":32,"d":30,"c":42},{"x":22.5,"y":-89.5,"s":14,"a":34,"d":31,"c":38},{"x":19,"y":-91,"s":15,"a":33,"d":31,"c":36},{"x":16.1,"y":-92,"s":16,"a":31,"d":30,"c":41},{"x":13,"y":-95,"s":20,"a":35,"d":32,"c":44},{"x":-0.7,"y":-84,"s":25,"a":23,"d":37,"c":39},{"x":8.8,"y":-83.8,"s":5,"a":21,"d":30,"c":40},{"x":13.5,"y":-84,"s":4,"a":25,"d":28,"c":47},{"x":13.8,"y":-80,"s":3,"a":22,"d":32,"c":41},{"x":22,"y":-79.5,"s":8,"a":24,"d":30,"c":40},{"x":20.2,"y":-83.5,"s":4,"a":21,"d":33,"c":33},{"x":15.4,"y":-76,"s":4,"a":25,"d":31,"c":38},{"x":4.7,"y":-74.7,"s":4,"a":22,"d":24,"c":37},{"x":2.4,"y":-72,"s":12,"a":24,"d":22,"c":33},{"x":7.1,"y":-69.5,"s":5,"a":20,"d":24,"c":40},{"x":11.1,"y":-68.8,"s":4,"a":23,"d":22,"c":36},{"x":15.4,"y":-70,"s":4,"a":26,"d":23,"c":37},{"x":22.5,"y":-70.4,"s":5,"a":22,"d":30,"c":41},{"x":20.9,"y":-65,"s":3,"a":24,"d":28,"c":40},
{"x":26,"y":-62,"s":4,"a":21,"d":32,"c":44},{"x":12.3,"y":-61,"s":3,"a":25,"d":30,"c":37},{"x":11.4,"y":-56,"s":3,"a":22,"d":33,"c":38},{"x":1.2,"y":-52,"s":14,"a":24,"d":29,"c":41},{"x":5.5,"y":-53,"s":20,"a":20,"d":35,"c":40},{"x":-2.4,"y":-54.5,"s":21,"a":23,"d":31,"c":40},{"x":20.2,"y":-54.5,"s":13,"a":25,"d":29,"c":33},{"x":17.8,"y":-53.3,"s":14,"a":21,"d":33,"c":38},{"x":23.7,"y":-52.6,"s":6,"a":24,"d":30,"c":35},{"x":25.4,"y":-54,"s":21,"a":22,"d":36,"c":41},{"x":21.3,"y":-56.4,"s":13,"a":25,"d":31,"c":42},{"x":42.7,"y":-58,"s":21,"a":20,"d":29,"c":33},{"x":43.9,"y":-56.4,"s":20,"a":24,"d":33,"c":44},{"x":41.5,"y":-51.4,"s":19,"a":22,"d":25,"c":40},{"x":34.4,"y":-50,"s":26,"a":24,"d":35,"c":47},{"x":39.1,"y":-48.5,"s":31,"a":21,"d":36,"c":44},{"x":46.2,"y":-48,"s":4,"a":25,"d":30,"c":37},{"x":28.9,"y":-47.8,"s":15,"a":22,"d":33,"c":40},{"x":33.2,"y":-46,"s":14,"a":24,"d":29,"c":36},{"x":45.5,"y":-42,"s":8,"a":20,"d":31,"c":41},
{"x":49.8,"y":-44,"s":13,"a":23,"d":34,"c":33},{"x":22.5,"y":-43.3,"s":13,"a":25,"d":30,"c":38},{"x":15.4,"y":-45.5,"s":13,"a":21,"d":33,"c":40},{"x":13,"y":-47.8,"s":10,"a":24,"d":29,"c":41},{"x":1.7,"y":-45.5,"s":15,"a":22,"d":31,"c":42},{"x":3,"y":-42.6,"s":16,"a":25,"d":36,"c":37},{"x":11.9,"y":-40,"s":20,"a":20,"d":30,"c":40},{"x":14.9,"y":-40.7,"s":19,"a":24,"d":33,"c":36},{"x":-0.7,"y":-42.6,"s":15,"a":22,"d":28,"c":41},{"x":4.7,"y":-36.7,"s":19,"a":25,"d":34,"c":38},{"x":-2.4,"y":-38,"s":5,"a":21,"d":31,"c":44},{"x":11.9,"y":-35.5,"s":4,"a":24,"d":29,"c":40},{"x":25.4,"y":-37.8,"s":21,"a":22,"d":33,"c":41},{"x":24.9,"y":-35.5,"s":21,"a":25,"d":30,"c":42},{"x":31.3,"y":-37.4,"s":14,"a":20,"d":36,"c":33},{"x":31.3,"y":-41,"s":21,"a":24,"d":31,"c":40},{"x":38.6,"y":-36,"s":22,"a":22,"d":33,"c":36},{"x":43.1,"y":-36,"s":21,"a":25,"d":29,"c":41},{"x":47.4,"y":-31.4,"s":23,"a":21,"d":35,"c":42},{"x":31.3,"y":-30.7,"s":3,"a":24,"d":31,"c":33},
{"x":33.2,"y":-32,"s":4,"a":22,"d":29,"c":44},{"x":38,"y":-30,"s":19,"a":25,"d":33,"c":40},{"x":38,"y":-26,"s":14,"a":20,"d":30,"c":40},{"x":31.3,"y":-25,"s":20,"a":24,"d":34,"c":37},{"x":19.7,"y":-29,"s":6,"a":22,"d":29,"c":38},{"x":7.1,"y":-31,"s":16,"a":25,"d":31,"c":41},{"x":11.9,"y":-30.7,"s":22,"a":21,"d":36,"c":36},{"x":1.7,"y":-28,"s":3,"a":24,"d":30,"c":37},{"x":-2.4,"y":-25.5,"s":21,"a":22,"d":33,"c":40},{"x":5.5,"y":-23,"s":20,"a":25,"d":29,"c":40},{"x":11.4,"y":-22,"s":21,"a":20,"d":32,"c":41},{"x":-1.2,"y":-33,"s":6,"a":24,"d":30,"c":38}
]},
"concat":[
{"width":309,"height":280,"data":{"name":"pts"},"mark":{"type":"point","filled":true,"size":70,"opacity":0.95,"stroke":"#2a2a2a","strokeWidth":0.4},"encoding":{
"x":{"field":"x","type":"quantitative","scale":{"domain":[-110,110],"nice":false,"zero":false},"axis":{"title":null,"labels":false,"values":[-100,-50,0,50,100]}},
"y":{"field":"y","type":"quantitative","scale":{"domain":[-100,100],"nice":false,"zero":false},"axis":{"title":null,"values":[-100,-75,-50,-25,0,25,50,75,100]}},
"color":{"field":"s","type":"quantitative","scale":{"scheme":"viridis","domain":[1,45]},"legend":{"title":"Solvent Feed Position","orient":"none","legendX":316,"legendY":11,"values":[10,20,30,40],"gradientLength":258,"gradientThickness":13,"gradientStrokeColor":"#222","gradientStrokeWidth":1,"titleOrient":"right","titleAnchor":"middle","titlePadding":5,"labelOffset":9,"encode":{"title":{"update":{"angle":{"value":270}}},"labels":{"update":{"baseline":{"value":"middle"}}}}}}}},
{"width":309,"height":280,"data":{"name":"pts"},"mark":{"type":"point","filled":true,"size":70,"opacity":0.95,"stroke":"#2a2a2a","strokeWidth":0.4},"encoding":{
"x":{"field":"x","type":"quantitative","scale":{"domain":[-110,110],"nice":false,"zero":false},"axis":{"title":null,"labels":false,"values":[-100,-50,0,50,100]}},
"y":{"field":"y","type":"quantitative","scale":{"domain":[-100,100],"nice":false,"zero":false},"axis":{"title":null,"labels":false,"values":[-100,-75,-50,-25,0,25,50,75,100]}},
"color":{"field":"a","type":"quantitative","scale":{"scheme":"viridis","domain":[1,45]},"legend":{"title":"Azeotropic Feed Position","orient":"none","legendX":316,"legendY":11,"values":[10,20,30,40],"gradientLength":258,"gradientThickness":13,"gradientStrokeColor":"#222","gradientStrokeWidth":1,"titleOrient":"right","titleAnchor":"middle","titlePadding":5,"labelOffset":9,"encode":{"title":{"update":{"angle":{"value":270}}},"labels":{"update":{"baseline":{"value":"middle"}}}}}}}},
{"width":309,"height":280,"data":{"name":"pts"},"mark":{"type":"point","filled":true,"size":70,"opacity":0.95,"stroke":"#2a2a2a","strokeWidth":0.4},"encoding":{
"x":{"field":"x","type":"quantitative","scale":{"domain":[-110,110],"nice":false,"zero":false},"axis":{"title":"t-SNE 1","titlePadding":4,"values":[-100,-50,0,50,100]}},
"y":{"field":"y","type":"quantitative","scale":{"domain":[-100,100],"nice":false,"zero":false},"axis":{"title":"t-SNE 2","titlePadding":16,"values":[-100,-75,-50,-25,0,25,50,75,100]}},
"color":{"field":"d","type":"quantitative","scale":{"scheme":"viridis","domain":[4,50]},"legend":{"title":"DWC Trays","orient":"none","legendX":316,"legendY":11,"values":[10,20,30,40,50],"gradientLength":258,"gradientThickness":13,"gradientStrokeColor":"#222","gradientStrokeWidth":1,"titleOrient":"right","titleAnchor":"middle","titlePadding":5,"labelOffset":9,"encode":{"title":{"update":{"angle":{"value":270}}},"labels":{"update":{"baseline":{"value":"middle"}}}}}}}},
{"width":309,"height":280,"data":{"name":"pts"},"mark":{"type":"point","filled":true,"size":70,"opacity":0.95,"stroke":"#2a2a2a","strokeWidth":0.4},"encoding":{
"x":{"field":"x","type":"quantitative","scale":{"domain":[-110,110],"nice":false,"zero":false},"axis":{"title":"t-SNE 1","titlePadding":4,"values":[-100,-50,0,50,100]}},
"y":{"field":"y","type":"quantitative","scale":{"domain":[-100,100],"nice":false,"zero":false},"axis":{"title":null,"labels":false,"values":[-100,-75,-50,-25,0,25,50,75,100]}},
"color":{"field":"c","type":"quantitative","scale":{"scheme":"viridis","domain":[4,50]},"legend":{"title":"Column Trays","orient":"none","legendX":316,"legendY":11,"values":[10,20,30,40,50],"gradientLength":258,"gradientThickness":13,"gradientStrokeColor":"#222","gradientStrokeWidth":1,"titleOrient":"right","titleAnchor":"middle","titlePadding":5,"labelOffset":9,"encode":{"title":{"update":{"angle":{"value":270}}},"labels":{"update":{"baseline":{"value":"middle"}}}}}}}}
],"columns":2,"spacing":{"column":22,"row":33},"resolve":{"scale":{"color":"independent"}}}
